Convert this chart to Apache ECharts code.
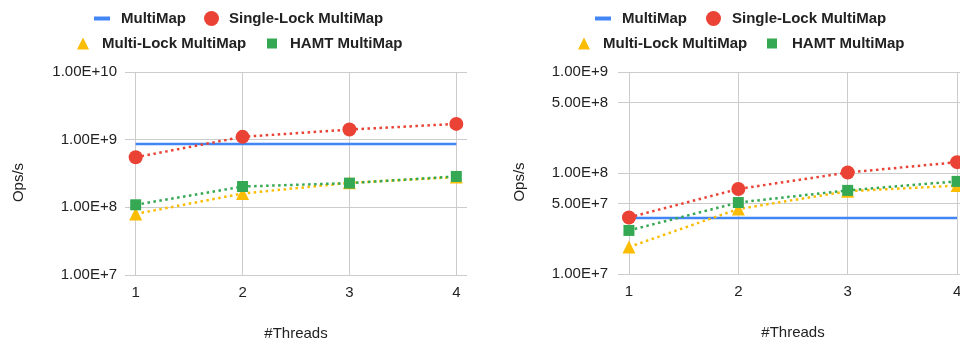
<!DOCTYPE html>
<html><head><meta charset="utf-8">
<script src="https://cdn.jsdelivr.net/npm/echarts@6/dist/echarts.min.js"></script>
<style>html,body{margin:0;padding:0;background:#fff}#c{width:960px;height:340px}</style>
</head><body><div id="c"></div>
<script>
const threads = [1, 2, 3, 4];
const seriesNames = ['MultiMap', 'Single-Lock MultiMap', 'Multi-Lock MultiMap', 'HAMT MultiMap'];
// left chart
const leftMultiMap = [8.6e8, 8.6e8, 8.6e8, 8.6e8];
const leftSingleLock = [5.5e8, 1.1e9, 1.41e9, 1.71e9];
const leftMultiLock = [8.0e7, 1.6e8, 2.3e8, 2.8e8];
const leftHAMT = [1.09e8, 2.03e8, 2.28e8, 2.86e8];
// right chart
const rightMultiMap = [3.58e7, 3.58e7, 3.58e7, 3.58e7];
const rightSingleLock = [3.63e7, 6.95e7, 1.01e8, 1.28e8];
const rightMultiLock = [1.85e7, 4.4e7, 6.6e7, 7.5e7];
const rightHAMT = [2.7e7, 5.1e7, 6.73e7, 8.26e7];
const leftYTicks = [1e7, 1e8, 1e9, 1e10];
const rightYTicks = [1e7, 5e7, 1e8, 5e8, 1e9];
const xName = '#Threads';
const yName = 'Ops/s';

const colors = ['#4285F4', '#EA4335', '#FBBC04', '#34A853'];
const symbols = ['none', 'circle', 'triangle', 'rect'];
const symbolSizes = [0, 14, 13, 11];
const FONT = 'Arial, "Liberation Sans", sans-serif';

function pairs(vals) { return threads.map((t, i) => [t, vals[i]]); }
function fmt(v) { return Number(v).toExponential(2).toUpperCase(); }

const leftData = [leftMultiMap, leftSingleLock, leftMultiLock, leftHAMT];
const rightData = [rightMultiMap, rightSingleLock, rightMultiLock, rightHAMT];

const series = [];
[leftData, rightData].forEach((set, gi) => {
  set.forEach((vals, si) => {
    series.push({
      name: seriesNames[si], type: 'line', xAxisIndex: gi, yAxisIndex: gi,
      data: pairs(vals),
      symbol: symbols[si], symbolSize: symbolSizes[si],
      showSymbol: si !== 0,
      lineStyle: { color: colors[si], width: 2.5, type: si === 0 ? 'solid' : [2.5, 3.5] },
      itemStyle: { color: colors[si] },
      z: si === 0 ? 2 : 3,
      animation: false
    });
  });
});

function xAxis(gi) {
  return {
    gridIndex: gi, type: 'value', min: 0.9, max: 4.1,
    name: xName, nameLocation: 'middle', nameGap: 51,
    nameTextStyle: { color: '#222', fontSize: 15, fontFamily: FONT, verticalAlign: 'top' },
    axisLine: { show: false },
    axisTick: { show: false, customValues: threads },
    axisLabel: { customValues: threads, color: '#222', fontSize: 15, fontFamily: FONT, margin: 10 },
    splitLine: { show: true, lineStyle: { color: '#cccccc', width: 1 } }
  };
}
function yAxis(gi, max, ticks, gap, margin) {
  return {
    gridIndex: gi, type: 'log', logBase: 10, min: 1e7, max: max,
    name: yName, nameLocation: 'middle', nameGap: gap,
    nameTextStyle: { color: '#222', fontSize: 15, fontFamily: FONT, padding: [0, 18, 0, 0] },
    axisLine: { show: false },
    axisTick: { show: false, customValues: ticks },
    axisLabel: { customValues: ticks, color: '#222', fontSize: 15, fontFamily: FONT, margin: margin, formatter: fmt },
    splitLine: { show: true, lineStyle: { color: '#cccccc', width: 1 } },
    minorSplitLine: { show: false }
  };
}

function legendItem(name, left, top, w, h, icon, pad) {
  return {
    data: [{ name: name, icon: icon }],
    left: left, top: top, itemWidth: w, itemHeight: h, padding: 0,
    selectedMode: false,
    textStyle: { color: '#222', fontSize: 15, fontWeight: 'bold', fontFamily: FONT, padding: [0, 0, 0, pad] }
  };
}
const legendPos = [
  [[94, 6], [204, 5], [77, 8], [267, 8]],
  [[595, 6], [706, 6], [578, 8], [767, 10]]
];
const legendShape = [[16, 4, 'rect'], [15, 15, 'circle'], [12, 12, 'triangle'], [10, 10, 'rect']];
const legendTops = [11, 11, 36, 36];
const legends = [];
legendPos.forEach(pp => {
  pp.forEach((p, i) => {
    const s = legendShape[i];
    legends.push(legendItem(seriesNames[i], p[0], legendTops[i], s[0], s[1], s[2], p[1]));
  });
});

const chart = echarts.init(document.getElementById('c'), null, { renderer: 'canvas' });
chart.setOption({
  backgroundColor: '#fff',
  color: colors,
  animation: false,
  legend: legends,
  grid: [
    { left: 125, right: 960 - 467, top: 72, bottom: 340 - 275, outerBoundsMode: 'none', containLabel: false },
    { left: 618, right: -8, top: 72, bottom: 340 - 274, outerBoundsMode: 'none', containLabel: false }
  ],
  xAxis: [xAxis(0), xAxis(1)],
  yAxis: [yAxis(0, 1e10, leftYTicks, 99, 8), yAxis(1, 1e9, rightYTicks, 91, 10)],
  series: series
});
</script></body></html>
